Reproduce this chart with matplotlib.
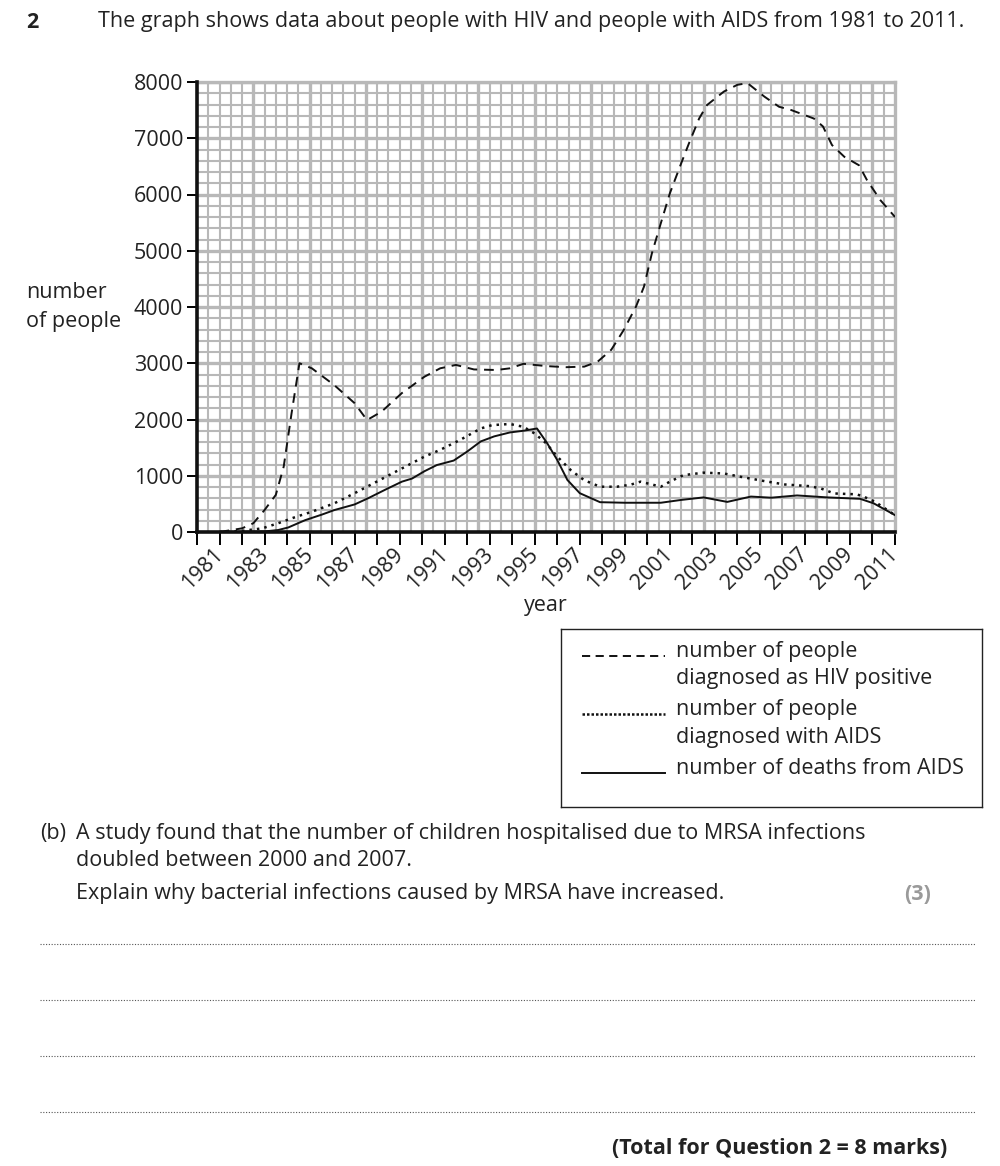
import numpy as np
import matplotlib
matplotlib.use('Agg')
import matplotlib.pyplot as plt

plt.rcParams['font.family'] = ['Open Sans', 'DejaVu Sans']

# values
hiv_years = [1981, 1982, 1982.5, 1983, 1983.5, 1983.85, 1984.2, 1984.55, 1985.1, 1986.1,
             1987, 1987.55, 1988.2, 1989.1, 1990.1, 1990.8, 1991.5, 1992.3, 1993.3, 1993.9,
             1994.5, 1995.5, 1996.4, 1997.2, 1997.8, 1998.4, 1998.95, 1999.5, 1999.85, 2000.2,
             2000.6, 2001, 2001.5, 2001.85, 2002.3, 2002.65, 2003.4, 2004, 2004.45, 2005.2,
             2005.85, 2006.4, 2007.4, 2007.8, 2008.2, 2008.75, 2009.4, 2009.75, 2010.35, 2011]
hiv_values = [0, 65, 155, 390, 660, 1160, 2110, 3000, 2910, 2610,
              2290, 1990, 2140, 2470, 2760, 2910, 2970, 2890, 2880, 2910,
              2990, 2950, 2930, 2940, 3030, 3240, 3590, 4010, 4360, 4950,
              5490, 6020, 6550, 6910, 7350, 7590, 7830, 7950, 7980, 7740,
              7560, 7500, 7350, 7210, 6880, 6670, 6520, 6260, 5900, 5600]

aids_years = [1981, 1982, 1982.9, 1983.6, 1984.4, 1985.1, 1986.1, 1987, 1988.1, 1989.1,
              1990.1, 1990.8, 1991.7, 1992.6, 1993.1, 1993.9, 1994.5, 1995, 1995.5, 1996,
              1996.6, 1997.2, 1997.9, 1998.65, 1999.25, 1999.7, 2000.6, 2001, 2001.6, 2002.5,
              2003.4, 2004.1, 2005.2, 2006.1, 2007.2, 2007.7, 2008.3, 2009.3, 2009.6, 2010.1, 2011]
aids_values = [0, 20, 65, 155, 270, 360, 510, 690, 920, 1130,
               1340, 1460, 1640, 1840, 1900, 1920, 1870, 1750, 1580, 1340,
               1100, 920, 805, 805, 840, 895, 805, 895, 1010, 1055,
               1040, 985, 905, 845, 815, 775, 685, 670, 630, 540, 300]

death_years = [1981, 1983, 1983.6, 1984.05, 1984.8, 1985.55, 1986.1, 1987, 1987.6, 1988.35,
               1989.1, 1989.55, 1990.1, 1990.65, 1991.4, 1992, 1992.6, 1993.2, 1993.9, 1994.5,
               1995.1, 1995.55, 1996, 1996.45, 1997, 1997.9, 1999, 2000.1, 2000.6, 2001.5,
               2002.5, 2003.55, 2004.6, 2005.5, 2006.65, 2008, 2009.45, 2010.05, 2011]
death_values = [0, 10, 35, 80, 210, 310, 390, 490, 600, 750,
                895, 950, 1080, 1190, 1270, 1430, 1610, 1700, 1770, 1800,
                1840, 1580, 1280, 925, 690, 530, 520, 520, 520, 570,
                615, 535, 630, 610, 650, 615, 590, 510, 300]

year_ticks = list(range(1980, 2012))
year_labels = [str(y) if y % 2 == 1 else '' for y in year_ticks]
value_ticks = list(range(0, 8001, 1000))

legend_labels = ['number of people\ndiagnosed as HIV positive',
                 'number of people\ndiagnosed with AIDS',
                 'number of deaths from AIDS']

W, H = 1000, 1166
FS = 15.5
TXT = '#222222'
fig = plt.figure(figsize=(W / 100, H / 100), dpi=100)


def fx(px):
    return px / W


def fy(py):
    return 1 - py / H


ax = fig.add_axes([fx(197), fy(532), (895 - 197) / W, (532 - 82) / H])
ax.set_xlim(1980, 2011)
ax.set_ylim(0, 8000)

# graph paper
grid_col = '#b8b8b8'
for gx in np.arange(1980.5, 2011, 0.5):
    major = abs(gx / 2.5 - round(gx / 2.5)) < 1e-6
    ax.axvline(gx, color=grid_col, lw=2.4 if major else 1.5, zorder=1)
for gy in range(200, 8001, 200):
    ax.axhline(gy, color=grid_col, lw=2.4 if gy % 1000 == 0 else 1.5, zorder=1)

ax.plot(hiv_years, hiv_values, color='#111111', lw=1.4, ls=(0, (5, 3.5)), zorder=3)
ax.plot(aids_years, aids_values, color='#111111', lw=1.8, ls=(0, (1, 2)), zorder=3)
ax.plot(death_years, death_values, color='#111111', lw=1.4, zorder=3)

ax.set_xticks(year_ticks)
ax.set_xticklabels(year_labels, rotation=45, ha='right', va='center',
                   rotation_mode='anchor', fontsize=FS, color=TXT)
ax.set_yticks(value_ticks)
ax.set_yticklabels([str(v) for v in value_ticks], fontsize=FS, color=TXT)
ax.tick_params(axis='x', length=9, width=1.4, pad=5, direction='out')
ax.tick_params(axis='y', length=7, width=1.4, pad=3, direction='out')

for s in ['left', 'bottom']:
    ax.spines[s].set_linewidth(2.6)
    ax.spines[s].set_color('#111111')
    ax.spines[s].set_zorder(4)
for s in ['top', 'right']:
    ax.spines[s].set_linewidth(2.4)
    ax.spines[s].set_color(grid_col)

fig.text(fx(546), fy(606), 'year', ha='center', va='center', fontsize=FS, color=TXT)
fig.text(fx(26), fy(293), 'number', ha='left', va='center', fontsize=FS, color=TXT)
fig.text(fx(26), fy(322), 'of people', ha='left', va='center', fontsize=FS, color=TXT)

# question header
fig.text(fx(26), fy(22), '2', ha='left', va='center', fontsize=FS, fontweight='bold', color=TXT)
fig.text(fx(98), fy(22), 'The graph shows data about people with HIV and people with AIDS from 1981 to 2011.',
         ha='left', va='center', fontsize=FS, color=TXT)

# key box
lg = fig.add_axes([fx(561), fy(807), (982 - 561) / W, (807 - 629) / H])
lg.set_xlim(0, 1)
lg.set_ylim(0, 1)
lg.set_xticks([])
lg.set_yticks([])
for s in lg.spines.values():
    s.set_linewidth(1.0)
    s.set_color(TXT)
styles = [dict(ls=(0, (4.2, 2.8)), lw=1.4), dict(ls=(0, (1, 0.8)), lw=1.8), dict(ls='-', lw=1.4)]
line_y = [0.85, 0.52, 0.19]
for lab, st, yy in zip(legend_labels, styles, line_y):
    lg.plot([0.05, 0.247], [yy, yy], color='#111111', **st)
    for i, p in enumerate(lab.split('\n')):
        lg.text(0.273, yy + 0.025 - i * 0.155, p, ha='left', va='center',
                fontsize=FS, color=TXT)

# part (b)
fig.text(fx(40), fy(833), '(b)', ha='left', va='center', fontsize=FS, color=TXT)
fig.text(fx(76), fy(833), 'A study found that the number of children hospitalised due to MRSA infections',
         ha='left', va='center', fontsize=FS, color=TXT)
fig.text(fx(76), fy(860), 'doubled between 2000 and 2007.', ha='left', va='center', fontsize=FS, color=TXT)
fig.text(fx(76), fy(894), 'Explain why bacterial infections caused by MRSA have increased.',
         ha='left', va='center', fontsize=FS, color=TXT)
fig.text(fx(931), fy(894), '(3)', ha='right', va='center', fontsize=FS, fontweight='bold', color='#9a9a9a')

for ly in [944, 1000, 1056, 1112]:
    fig.add_artist(plt.Line2D([fx(40), fx(975)], [fy(ly), fy(ly)], color='#555555', lw=0.8, ls=(0, (1, 1.5))))

fig.text(fx(947), fy(1148), '(Total for Question 2 = 8 marks)', ha='right', va='center',
         fontsize=FS, fontweight='bold', color=TXT)

fig.savefig('out.png', dpi=100, facecolor='white')
